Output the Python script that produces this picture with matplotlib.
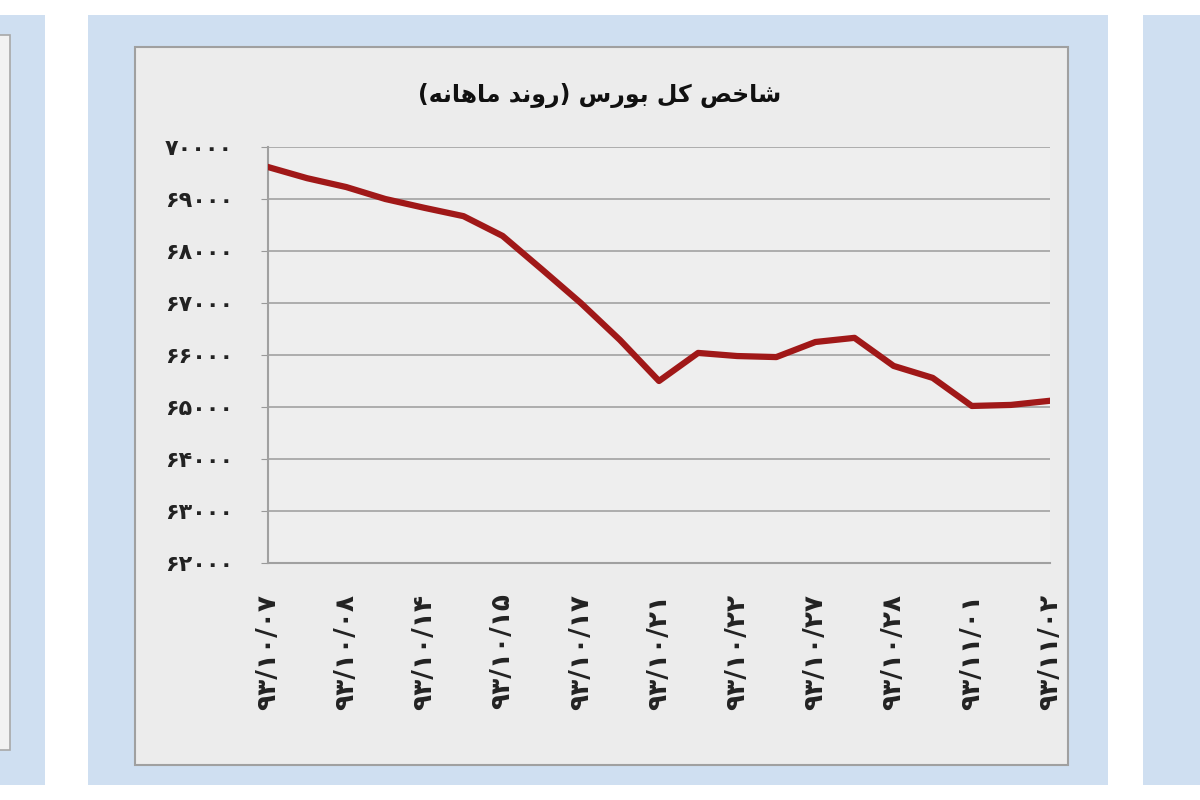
import matplotlib
import matplotlib.pyplot as plt
from matplotlib.patches import Rectangle

matplotlib.rcParams['font.family'] = ['DejaVu Sans', 'Noto Sans']

# شاخص کل بورس - روزانه، برچسب هر دو روز یک بار
dates = ["۹۳/۱۰/۰۷", "", "۹۳/۱۰/۰۸", "", "۹۳/۱۰/۱۴", "", "۹۳/۱۰/۱۵", "",
         "۹۳/۱۰/۱۷", "", "۹۳/۱۰/۲۱", "", "۹۳/۱۰/۲۲", "", "۹۳/۱۰/۲۷", "",
         "۹۳/۱۰/۲۸", "", "۹۳/۱۱/۰۱", "", "۹۳/۱۱/۰۲"]
index_values = [69615, 69400, 69230, 69000, 68830, 68670, 68290, 67650, 67000,
                66290, 65500, 66040, 65980, 65960, 66250, 66330, 65790, 65560,
                65020, 65040, 65120]
y_ticks = [62000, 63000, 64000, 65000, 66000, 67000, 68000, 69000, 70000]
title = "شاخص کل بورس (روند ماهانه)"

FA_DIGITS = str.maketrans("0123456789", "۰۱۲۳۴۵۶۷۸۹")

# حروف و شکل‌های نمایشی: تنها، پایانی، آغازین، میانی
FORMS = {
    "ا": ("\uFE8D", "\uFE8E"), "د": ("\uFEA9", "\uFEAA"),
    "ر": ("\uFEAD", "\uFEAE"), "و": ("\uFEED", "\uFEEE"),
    "ب": ("\uFE8F", "\uFE90", "\uFE91", "\uFE92"),
    "خ": ("\uFEA5", "\uFEA6", "\uFEA7", "\uFEA8"),
    "س": ("\uFEB1", "\uFEB2", "\uFEB3", "\uFEB4"),
    "ش": ("\uFEB5", "\uFEB6", "\uFEB7", "\uFEB8"),
    "ص": ("\uFEB9", "\uFEBA", "\uFEBB", "\uFEBC"),
    "ک": ("\uFB8E", "\uFB8F", "\uFB90", "\uFB91"),
    "ل": ("\uFEDD", "\uFEDE", "\uFEDF", "\uFEE0"),
    "م": ("\uFEE1", "\uFEE2", "\uFEE3", "\uFEE4"),
    "ن": ("\uFEE5", "\uFEE6", "\uFEE7", "\uFEE8"),
    "ه": ("\uFEE9", "\uFEEA", "\uFEEB", "\uFEEC"),
}


def shape(text):
    out = []
    for i, c in enumerate(text):
        if c not in FORMS:
            out.append(c)
            continue
        prev = text[i - 1] if i > 0 else ""
        nxt = text[i + 1] if i + 1 < len(text) else ""
        f = FORMS[c]
        j_prev = prev in FORMS and len(FORMS[prev]) == 4
        j_next = nxt in FORMS and len(f) == 4
        if j_prev and j_next:
            out.append(f[3])
        elif j_prev:
            out.append(f[1])
        elif j_next:
            out.append(f[2])
        else:
            out.append(f[0])
    mirror = {"(": ")", ")": "("}
    return "".join(mirror.get(c, c) for c in reversed(out))


fig = plt.figure(figsize=(12, 8), dpi=100)
fig.patch.set_facecolor("white")

blue = "#cfdff1"
# پنل‌های کناری و پنل اصلی
fig.patches.append(Rectangle((0, 15 / 800), 45 / 1200, 770 / 800, transform=fig.transFigure,
                             facecolor=blue, edgecolor="none", zorder=0))
fig.patches.append(Rectangle((-0.01, 50 / 800), 10 / 1200 + 0.01, 715 / 800, transform=fig.transFigure,
                             facecolor="#f2f2f2", edgecolor="#a8a8a8", lw=1.2, zorder=1))
fig.patches.append(Rectangle((1143 / 1200, 15 / 800), 60 / 1200, 770 / 800, transform=fig.transFigure,
                             facecolor=blue, edgecolor="none", zorder=0))
fig.patches.append(Rectangle((88 / 1200, 15 / 800), 1020 / 1200, 770 / 800, transform=fig.transFigure,
                             facecolor=blue, edgecolor="none", zorder=0))
fig.patches.append(Rectangle((135 / 1200, 35 / 800), 933 / 1200, 718 / 800, transform=fig.transFigure,
                             facecolor="#ececec", edgecolor="#a0a0a0", lw=1.5, zorder=1))

ax = fig.add_axes([268 / 1200, 1 - 563 / 800, 782 / 1200, 416 / 800])
ax.set_zorder(5)
ax.set_facecolor("#eeeeee")
x = list(range(len(index_values)))
ax.plot(x, index_values, color="#a01818", lw=4.5, solid_joinstyle="round", zorder=3)

ax.set_xlim(0, len(index_values) - 1)
ax.set_ylim(62000, 70000)
ax.set_yticks(y_ticks)
ax.set_yticklabels([str(v).translate(FA_DIGITS) for v in y_ticks],
                   fontsize=16, fontweight="bold", color="#222222")
ax.set_xticks(x)
ax.set_xticklabels(dates, rotation=90, fontsize=19, fontweight="bold", color="#222222")
ax.tick_params(axis="y", length=5, color="#999999", pad=20)
ax.tick_params(axis="x", length=0, pad=22)
ax.yaxis.grid(True, color="#a8a8a8", lw=1.3)
ax.set_axisbelow(True)
for s in ["top", "right"]:
    ax.spines[s].set_visible(False)
ax.spines["left"].set_color("#a0a0a0")
ax.spines["bottom"].set_color("#a0a0a0")
ax.spines["left"].set_linewidth(1.5)
ax.spines["bottom"].set_linewidth(1.5)

fig.text(600 / 1200, 1 - 95 / 800, shape(title), ha="center", va="center",
         fontsize=17, fontweight="bold", color="#111111", zorder=6)

fig.savefig("out.png", dpi=100)
